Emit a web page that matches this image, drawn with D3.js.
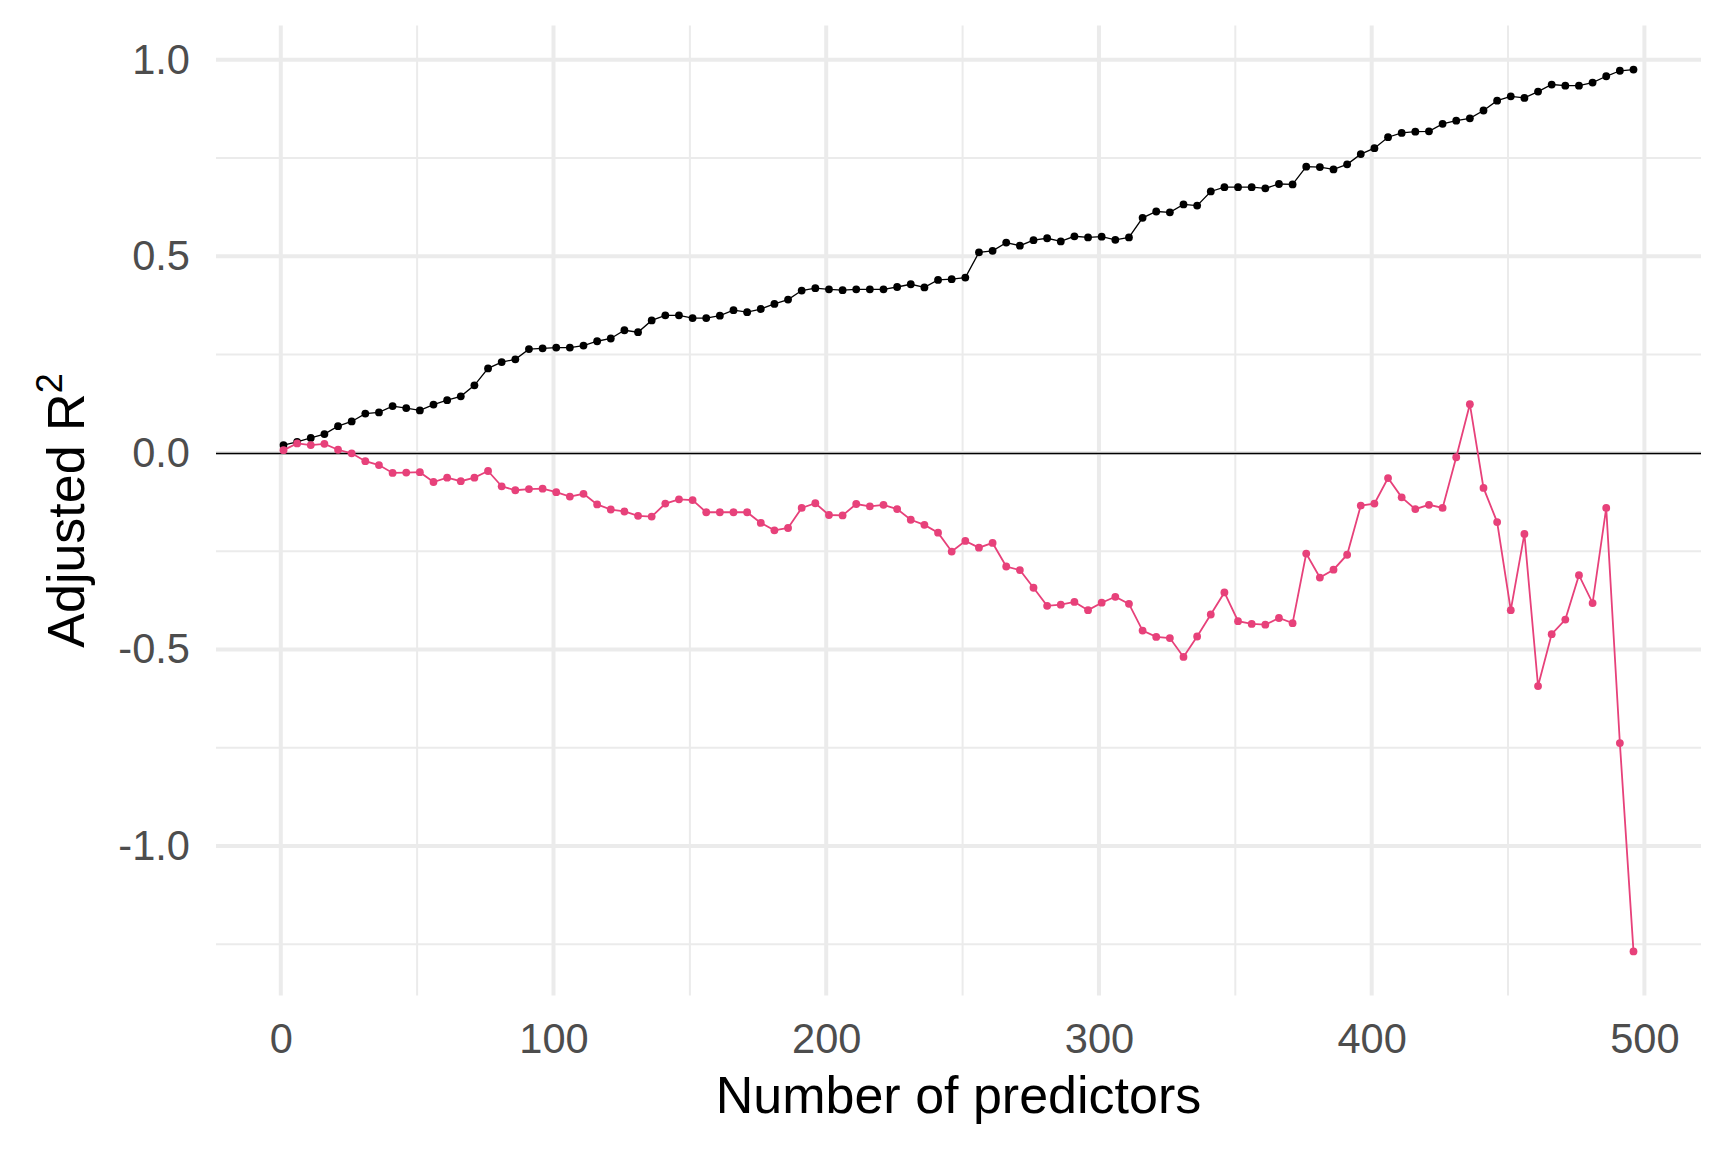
<!DOCTYPE html>
<html>
<head>
<meta charset="utf-8">
<script src="https://cdn.jsdelivr.net/npm/d3@7"></script>
<style>
  html, body { margin: 0; padding: 0; background: #ffffff; }
  svg { display: block; }
  text { font-family: "Liberation Sans", Arial, sans-serif; }
</style>
</head>
<body>
<svg id="chart" width="1728" height="1152"></svg>
<script>
// ---- data ----
const predictors = [1,6,11,16,21,26,31,36,41,46,51,56,61,66,71,76,81,86,91,96,
  101,106,111,116,121,126,131,136,141,146,151,156,161,166,171,176,181,186,191,196,
  201,206,211,216,221,226,231,236,241,246,251,256,261,266,271,276,281,286,291,296,
  301,306,311,316,321,326,331,336,341,346,351,356,361,366,371,376,381,386,391,396,
  401,406,411,416,421,426,431,436,441,446,451,456,461,466,471,476,481,486,491,496];

const trainR2 = [0.020,0.028,0.038,0.048,0.068,0.080,0.100,0.103,0.119,0.114,
  0.108,0.123,0.134,0.144,0.172,0.215,0.231,0.238,0.264,0.266,
  0.268,0.268,0.273,0.284,0.291,0.312,0.307,0.337,0.350,0.350,
  0.343,0.343,0.349,0.363,0.358,0.366,0.379,0.390,0.413,0.419,
  0.416,0.414,0.416,0.416,0.416,0.422,0.429,0.421,0.440,0.442,
  0.446,0.510,0.514,0.535,0.527,0.541,0.546,0.538,0.551,0.548,
  0.550,0.542,0.548,0.598,0.614,0.612,0.632,0.629,0.665,0.676,
  0.676,0.676,0.673,0.684,0.683,0.728,0.727,0.721,0.734,0.760,
  0.775,0.803,0.814,0.817,0.818,0.837,0.845,0.851,0.871,0.896,
  0.907,0.903,0.919,0.937,0.934,0.934,0.942,0.958,0.972,0.975];

const testR2 = [0.007,0.024,0.020,0.023,0.008,-0.001,-0.021,-0.031,-0.051,-0.050,
  -0.049,-0.074,-0.063,-0.072,-0.063,-0.046,-0.085,-0.095,-0.092,-0.091,
  -0.100,-0.111,-0.104,-0.131,-0.144,-0.149,-0.160,-0.162,-0.129,-0.118,
  -0.120,-0.151,-0.151,-0.151,-0.151,-0.178,-0.197,-0.191,-0.140,-0.128,
  -0.158,-0.159,-0.130,-0.136,-0.132,-0.143,-0.170,-0.183,-0.203,-0.251,
  -0.224,-0.241,-0.229,-0.289,-0.298,-0.343,-0.389,-0.386,-0.379,-0.400,
  -0.381,-0.366,-0.384,-0.452,-0.468,-0.471,-0.519,-0.467,-0.411,-0.355,
  -0.428,-0.435,-0.437,-0.420,-0.433,-0.256,-0.317,-0.297,-0.259,-0.134,
  -0.129,-0.064,-0.113,-0.143,-0.132,-0.140,-0.011,0.124,-0.089,-0.176,
  -0.400,-0.206,-0.593,-0.461,-0.424,-0.311,-0.382,-0.140,-0.738,-1.268];

const xTicks = [0, 100, 200, 300, 400, 500];
const xTickLabels = ["0", "100", "200", "300", "400", "500"];
const xMinor = [50, 150, 250, 350, 450];
const yTicks = [-1.0, -0.5, 0.0, 0.5, 1.0];
const yTickLabels = ["-1.0", "-0.5", "0.0", "0.5", "1.0"];
const yMinor = [-1.25, -0.75, -0.25, 0.25, 0.75];

// ---- layout ----
const panel = { left: 216, right: 1701, top: 25.5, bottom: 995.5 };
const svg = d3.select("#chart");

function expand(ext, f) { const d = ext[1] - ext[0]; return [ext[0] - d * f, ext[1] + d * f]; }
const xDom = expand(d3.extent(predictors), 0.05);
const allY = trainR2.concat(testR2);
const yDom = expand(d3.extent(allY), 0.05);

const x = d3.scaleLinear().domain(xDom).range([panel.left, panel.right]);
const y = d3.scaleLinear().domain(yDom).range([panel.bottom, panel.top]);

const grid = svg.append("g");
grid.selectAll(".ymin").data(yMinor).enter().append("line")
  .attr("x1", panel.left).attr("x2", panel.right)
  .attr("y1", d => y(d)).attr("y2", d => y(d))
  .attr("stroke", "#ebebeb").attr("stroke-width", 2);
grid.selectAll(".xmin").data(xMinor).enter().append("line")
  .attr("y1", panel.top).attr("y2", panel.bottom)
  .attr("x1", d => x(d)).attr("x2", d => x(d))
  .attr("stroke", "#ebebeb").attr("stroke-width", 2);
grid.selectAll(".ymaj").data(yTicks).enter().append("line")
  .attr("x1", panel.left).attr("x2", panel.right)
  .attr("y1", d => y(d)).attr("y2", d => y(d))
  .attr("stroke", "#ebebeb").attr("stroke-width", 4);
grid.selectAll(".xmaj").data(xTicks).enter().append("line")
  .attr("y1", panel.top).attr("y2", panel.bottom)
  .attr("x1", d => x(d)).attr("x2", d => x(d))
  .attr("stroke", "#ebebeb").attr("stroke-width", 4);

// zero reference line
svg.append("line")
  .attr("x1", panel.left).attr("x2", panel.right)
  .attr("y1", Math.round(y(0)) + 0.5).attr("y2", Math.round(y(0)) + 0.5)
  .attr("stroke", "#000").attr("stroke-width", 1.6);

// ---- series ----
const series = [
  { values: trainR2, color: "#000000", lw: 1.3 },
  { values: testR2, color: "#E7417A", lw: 1.8 }
];
const line = d3.line().x(d => x(d[0])).y(d => y(d[1]));
series.forEach(s => {
  const pts = predictors.map((p, i) => [p, s.values[i]]);
  svg.append("path").datum(pts)
    .attr("d", line).attr("fill", "none")
    .attr("stroke", s.color).attr("stroke-width", s.lw);
  svg.append("g").selectAll("circle").data(pts).enter().append("circle")
    .attr("cx", d => x(d[0])).attr("cy", d => y(d[1]))
    .attr("r", 3.9).attr("fill", s.color);
});

// ---- axes ----
const xAxis = d3.axisBottom(x).tickValues(xTicks)
  .tickFormat((d, i) => xTickLabels[i]).tickSize(0).tickPadding(28);
const gx = svg.append("g").attr("transform", `translate(0,${panel.bottom})`).call(xAxis);
gx.select(".domain").remove();
gx.selectAll("text").attr("fill", "#4d4d4d").style("font-size", "41.6px")
  .style("font-family", "'Liberation Sans', Arial, sans-serif");

const yAxis = d3.axisLeft(y).tickValues(yTicks)
  .tickFormat((d, i) => yTickLabels[i]).tickSize(0).tickPadding(26);
const gy = svg.append("g").attr("transform", `translate(${panel.left},0)`).call(yAxis);
gy.select(".domain").remove();
gy.selectAll("text").attr("fill", "#4d4d4d").style("font-size", "41.6px")
  .style("font-family", "'Liberation Sans', Arial, sans-serif");

// ---- titles ----
svg.append("text")
  .attr("x", (panel.left + panel.right) / 2).attr("y", 1113)
  .attr("text-anchor", "middle").attr("fill", "#000")
  .style("font-size", "52px").text("Number of predictors");

const yt = svg.append("text")
  .attr("transform", `translate(84,${(panel.top + panel.bottom) / 2}) rotate(-90)`)
  .attr("text-anchor", "middle").attr("fill", "#000")
  .style("font-size", "52px");
yt.append("tspan").text("Adjusted R");
yt.append("tspan").attr("dy", "-0.6em").style("font-size", "36px").text("2");
</script>
</body>
</html>
